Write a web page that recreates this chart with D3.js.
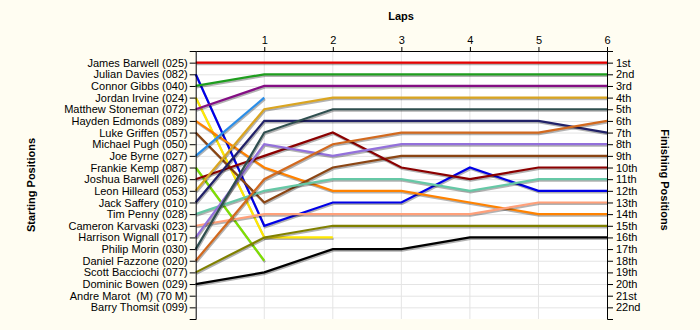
<!DOCTYPE html>
<html>
<head>
<meta charset="utf-8">
<script src="https://cdnjs.cloudflare.com/ajax/libs/d3/7.8.5/d3.min.js"></script>
<style>
  body { margin: 0; background: #fffdf2; }
  text { font-family: Arial, "Liberation Sans", sans-serif; }
</style>
</head>
<body>
<div id="chart"></div>
<script>
// starting grid (row order = starting position)
var drivers = ["James Barwell (025)", "Julian Davies (082)", "Connor Gibbs (040)", "Jordan Irvine (024)",
  "Matthew Stoneman (072)", "Hayden Edmonds (089)", "Luke Griffen (057)", "Michael Pugh (050)",
  "Joe Byrne (027)", "Frankie Kemp (087)", "Joshua Barwell (026)", "Leon Hilleard (053)",
  "Jack Saffery (010)", "Tim Penny (028)", "Cameron Karvaski (023)", "Harrison Wignall (017)",
  "Philip Morin (030)", "Daniel Fazzone (020)", "Scott Bacciochi (077)", "Dominic Bowen (029)",
  "Andre Marot  (M) (70 M)", "Barry Thomsit (099)"];

var finishLabels = ["1st", "2nd", "3rd", "4th", "5th", "6th", "7th", "8th", "9th", "10th", "11th",
  "12th", "13th", "14th", "15th", "16th", "17th", "18th", "19th", "20th", "21st", "22nd"];

var laps = [0, 1, 2, 3, 4, 5, 6];

// position at lap 0..6 for each driver (empty = no data)
var positions = [
  [1, 1, 1, 1, 1, 1, 1],
  [2, 15, 13, 13, 10, 12, 12],
  [3, 2, 2, 2, 2, 2, 2],
  [4, 16, 16],
  [5, 3, 3, 3, 3, 3, 3],
  [6, 10, 12, 12, 13, 14, 14],
  [7, 13, 10, 9, 9, 9, 9],
  [],
  [9, 4],
  [10, 18],
  [11, 9, 7, 10, 11, 10, 10],
  [12, 5, 4, 4, 4, 4, 4],
  [13, 6, 6, 6, 6, 6, 7],
  [14, 12, 11, 11, 12, 11, 11],
  [15, 14, 14, 14, 14, 13, 13],
  [16, 8, 9, 8, 8, 8, 8],
  [17, 7, 5, 5, 5, 5, 5],
  [18, 11, 8, 7, 7, 7, 6],
  [19, 16, 15, 15, 15, 15, 15],
  [20, 19, 17, 17, 16, 16, 16],
  [],
  []
];

var colors = ["#e60000", "#0000e6", "#1e9e1e", "#ffe800", "#840e84", "#ff8200", "#8b4513", "#888888",
  "#2b8ee8", "#7ee000", "#8b0000", "#daa520", "#222268", "#66c8a6", "#ffa07a", "#9370db",
  "#2f4f4f", "#d2691e", "#808000", "#000000", "#888888", "#888888"];

var width = 700, height = 330;
var mLeft = 195.7, mRight = 607, mTop = 51, mBottom = 319;

var svg = d3.select("#chart").append("svg")
  .attr("width", width)
  .attr("height", height);

var x = d3.scaleLinear().domain([0, 6]).range([mLeft, mRight]);
var y = d3.scaleLinear().domain([0, 23]).range([mTop, mBottom]);

svg.append("rect")
  .attr("x", mLeft).attr("y", mTop)
  .attr("width", mRight - mLeft).attr("height", mBottom - mTop)
  .attr("fill", "#ffffff");

// grid
svg.append("g").selectAll("line")
  .data(d3.range(1, 23))
  .enter().append("line")
  .attr("x1", mLeft).attr("x2", mRight)
  .attr("y1", function(d) { return y(d) + 0.5; })
  .attr("y2", function(d) { return y(d) + 0.5; })
  .attr("stroke", "#e4e4e4");

svg.append("g").selectAll("line")
  .data(laps.slice(1, 6))
  .enter().append("line")
  .attr("x1", function(d) { return x(d); })
  .attr("x2", function(d) { return x(d); })
  .attr("y1", mTop).attr("y2", mBottom)
  .attr("stroke", "#e4e4e4");

// lines
var line = d3.line()
  .x(function(d, i) { return x(i); })
  .y(function(d) { return y(d); });

var series = positions.map(function(p, i) { return { p: p, c: colors[i] }; })
  .filter(function(d) { return d.p.length > 1; });

var g = svg.append("g");
series.forEach(function(s) {
  g.append("path")
    .attr("d", line(s.p))
    .attr("fill", "none")
    .attr("stroke", "#000")
    .attr("stroke-opacity", 0.3)
    .attr("stroke-width", 2.2)
    .attr("transform", "translate(0.8,1.5)");
  g.append("path")
    .attr("d", line(s.p))
    .attr("fill", "none")
    .attr("stroke", s.c)
    .attr("stroke-width", 2.2);
});

// axes
var yLeft = d3.axisLeft(y)
  .tickValues(d3.range(1, 23))
  .tickFormat(function(d) { return drivers[d - 1]; })
  .tickSize(6).tickPadding(2);

var yRight = d3.axisRight(y)
  .tickValues(d3.range(1, 23))
  .tickFormat(function(d) { return finishLabels[d - 1]; })
  .tickSize(6).tickPadding(3);

var xTop = d3.axisTop(x)
  .tickValues(laps.slice(1))
  .tickFormat(d3.format("d"))
  .tickSize(4).tickSizeOuter(0).tickPadding(3);

var gl = svg.append("g").attr("transform", "translate(" + mLeft + ",0)").call(yLeft);
var gr = svg.append("g").attr("transform", "translate(" + mRight + ",0)").call(yRight);
var gt = svg.append("g").attr("transform", "translate(0," + mTop + ")").call(xTop);

[gl, gr, gt].forEach(function(a) {
  a.attr("font-family", null).attr("font-size", null);
  a.selectAll("text").attr("font-size", 11).attr("fill", "#000");
});
gl.selectAll("text").style("white-space", "pre");

// titles
svg.append("text")
  .attr("x", 401).attr("y", 20)
  .attr("text-anchor", "middle")
  .attr("font-size", 11).attr("font-weight", "bold")
  .text("Laps");

svg.append("text")
  .attr("transform", "translate(31,185) rotate(-90)")
  .attr("text-anchor", "middle").attr("dy", "0.35em")
  .attr("font-size", 11).attr("font-weight", "bold")
  .text("Starting Positions");

svg.append("text")
  .attr("transform", "translate(665,180) rotate(90)")
  .attr("text-anchor", "middle").attr("dy", "0.35em")
  .attr("font-size", 11).attr("font-weight", "bold")
  .text("Finishing Positions");
</script>
</body>
</html>
